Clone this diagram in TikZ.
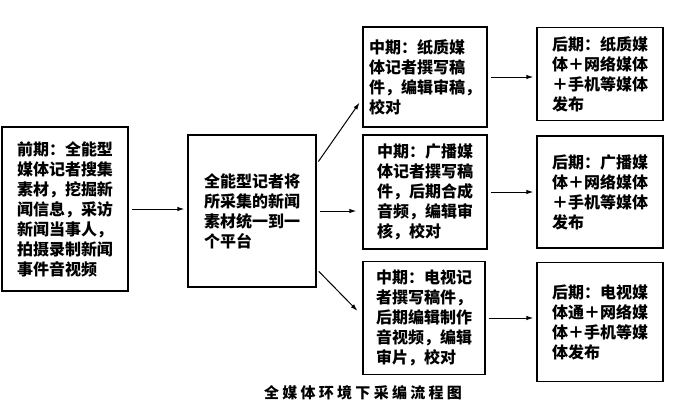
\documentclass[tikz,border=0pt]{standalone}
\usepackage{fontspec}
\newfontfamily\cjk{Noto Sans CJK SC}
\usetikzlibrary{calc,positioning,arrows.meta}

\begin{document}
\begin{tikzpicture}[x=1pt, y=-1pt,
  stage/.style={draw, line width=1.3pt, align=left, inner sep=0pt,
    font=\cjk\bfseries\fontsize{16}{20}\selectfont},
  flow/.style={-{Latex[length=7pt,width=4.5pt]}, line width=1pt, shorten >=3pt, shorten <=3pt}]
\useasboundingbox (0,0) rectangle (678,408);

% collection
\node [stage, minimum width=126pt, minimum height=164pt] (pre) at (65,209)
  {前期：全能型\\媒体记者搜集\\素材，挖掘新\\闻信息，采访\\新闻当事人，\\拍摄录制新闻\\事件音视频};
\node [stage, minimum width=128pt, minimum height=152pt] (hub) at (252,211)
  {全能型记者将\\所采集的新闻\\素材统一到一\\个平台};

% editing
\node [stage, minimum width=124pt, minimum height=100pt] (midpaper) at (425,77)
  {中期：纸质媒\\体记者撰写稿\\件，编辑审稿，\\校对};
\node [stage, minimum width=124pt, minimum height=114pt] (midradio) at (425,192)
  {中期：广播媒\\体记者撰写稿\\件，后期合成\\音频，编辑审\\核，校对};
\node [stage, minimum width=122pt, minimum height=113pt] (midtv) at (424,318)
  {中期：电视记\\者撰写稿件，\\后期编辑制作\\音视频，编辑\\审片，校对};

% publishing
\node [stage, minimum width=126pt, minimum height=93pt] (postpaper) at (600,74)
  {后期：纸质媒\\体＋网络媒体\\＋手机等媒体\\发布};
\node [stage, minimum width=126pt, minimum height=112pt] (postradio) at (600,192)
  {后期：广播媒\\体＋网络媒体\\＋手机等媒体\\发布};
\node [stage, minimum width=126pt, minimum height=119pt] (posttv) at (600,322)
  {后期：电视媒\\体通＋网络媒\\体＋手机等媒\\体发布};

\node [font=\cjk\bfseries\fontsize{15}{16}\selectfont\addfontfeatures{LetterSpace=22}] (title) at (363,393)
  {全媒体环境下采编流程图};

\draw [flow] (pre.east) -- (pre.east -| hub.west);
\draw [flow, shorten >=5pt] (hub.36) -- (midpaper.199);
\draw [flow, shorten >=6pt] (hub.east) -- (hub.east -| midradio.west);
\draw [flow, shorten >=7pt] (hub.-42) -- (midtv.178);
\draw [flow] (midpaper.east) -- (midpaper.east -| postpaper.west);
\draw [flow] (midradio.east) -- (midradio.east -| postradio.west);
\draw [flow] (midtv.east) -- (midtv.east -| posttv.west);
\end{tikzpicture}
\end{document}
